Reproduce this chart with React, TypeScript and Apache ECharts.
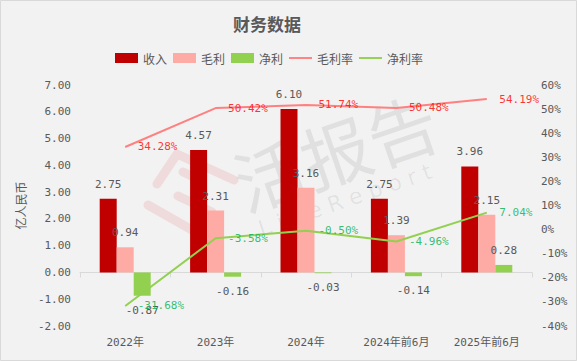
import React, { useEffect, useRef } from "react";
import * as echarts from "echarts";

const categories = ["2022年", "2023年", "2024年", "2024年前6月", "2025年前6月"];
const revenue = [2.75, 4.57, 6.1, 2.75, 3.96];
const grossProfit = [0.94, 2.31, 3.16, 1.39, 2.15];
const netProfit = [-0.87, -0.16, -0.03, -0.14, 0.28];
const grossMargin = [34.28, 50.42, 51.74, 50.48, 54.19];
const netMargin = [-31.68, -3.58, -0.5, -4.96, 7.04];

const monoFont = "'DejaVu Sans Mono', 'Noto Sans CJK SC', monospace";
const cjkFont = "'Noto Sans CJK SC', sans-serif";
const gray = "#595959";
const lineIcon = "path://M0,0 L24,0 L24,2 L0,2 Z";
const logoStroke = { stroke: "rgba(225,70,70,0.13)", lineWidth: 9, lineCap: "round", lineJoin: "round", fill: "none" };

export default function App() {
  const ref = useRef<HTMLDivElement>(null);
  useEffect(() => {
    if (!ref.current) return;
    const chart = echarts.init(ref.current, undefined, { renderer: "svg" });
    const barLabel = {
      show: true,
      position: "top",
      distance: 9,
      color: gray,
      fontSize: 11,
      fontFamily: monoFont,
      formatter: (p: any) => Number(p.value).toFixed(2),
    };
    const pctLabel = (color: string) => ({
      show: true,
      position: "right",
      distance: 12,
      color,
      fontSize: 11,
      fontFamily: monoFont,
      formatter: (p: any) => Number(p.value).toFixed(2) + "%",
    });
    chart.setOption({
      animation: false,
      backgroundColor: "#f2f2f2",
      title: {
        text: "财务数据",
        left: 228,
        top: 10,
        textStyle: { fontSize: 17, fontWeight: "bold", color: gray, fontFamily: cjkFont },
      },
      legend: {
        left: 110,
        top: 47,
        itemWidth: 23,
        itemHeight: 10,
        itemGap: 6,
        textStyle: { fontSize: 12, color: gray, fontFamily: cjkFont },
        data: [
          { name: "收入", icon: "rect" },
          { name: "毛利", icon: "rect" },
          { name: "净利", icon: "rect" },
          { name: "毛利率", icon: lineIcon, itemStyle: { color: "#FF8080" } },
          { name: "净利率", icon: lineIcon, itemStyle: { color: "#92D050" } },
        ],
      },
      graphic: [
        {
          type: "rect",
          shape: { x: 0.5, y: 0.5, width: 576, height: 360 },
          style: { fill: "none", stroke: "#d9d9d9", lineWidth: 1 },
          silent: true,
        },
        {
          type: "polyline",
          z: -10,
          silent: true,
          shape: { points: [[157, 184], [177, 154], [234, 180]] },
          style: logoStroke,
        },
        {
          type: "polyline",
          z: -10,
          silent: true,
          shape: { points: [[183, 172], [196, 178]] },
          style: logoStroke,
        },
        {
          type: "polyline",
          z: -10,
          silent: true,
          shape: { points: [[178, 196], [212, 212]] },
          style: logoStroke,
        },
        {
          type: "polyline",
          z: -10,
          silent: true,
          shape: { points: [[148, 205], [192, 230]] },
          style: logoStroke,
        },
        {
          type: "text",
          x: 335,
          y: 150,
          rotation: 0.33,
          z: -10,
          silent: true,
          style: {
            text: "活报告",
            fontSize: 70,
            fontFamily: cjkFont,
            fill: "rgba(0,0,0,0.07)",
            align: "center",
            verticalAlign: "middle",
          },
        },
        {
          type: "text",
          x: 345,
          y: 200,
          rotation: 0.33,
          z: -10,
          silent: true,
          style: {
            text: "L i v e R e p o r t",
            fontSize: 22,
            fontFamily: "'DejaVu Sans', sans-serif",
            fill: "rgba(0,0,0,0.07)",
            align: "center",
            verticalAlign: "middle",
          },
        },
      ],
      grid: { left: 80, right: 45, top: 85, bottom: 35, containLabel: false },
      xAxis: [
        {
          type: "category",
          data: categories,
          position: "bottom",
          axisLine: { show: false, onZero: false },
          axisTick: { show: false },
          axisLabel: { color: gray, fontSize: 11, fontFamily: monoFont, margin: 11 },
        },
        {
          type: "category",
          data: categories,
          position: "bottom",
          axisLine: { show: true, onZero: true, onZeroAxisIndex: 0, lineStyle: { color: "#d9d9d9", width: 1 } },
          axisTick: { show: true, length: 5, lineStyle: { color: "#d9d9d9" } },
          axisLabel: { show: false },
        },
      ],
      yAxis: [
        {
          type: "value",
          min: -2,
          max: 7,
          interval: 1,
          name: "亿人民币",
          nameLocation: "middle",
          nameRotate: 90,
          nameGap: 47,
          nameTextStyle: { color: gray, fontSize: 12, fontFamily: cjkFont },
          axisLine: { show: false },
          axisTick: { show: false },
          splitLine: { show: false },
          axisLabel: {
            color: gray,
            fontSize: 11,
            fontFamily: monoFont,
            margin: 9,
            formatter: (v: number) => v.toFixed(2),
          },
        },
        {
          type: "value",
          min: -40,
          max: 60,
          interval: 10,
          axisLine: { show: false },
          axisTick: { show: false },
          splitLine: { show: false },
          axisLabel: {
            color: gray,
            fontSize: 11,
            fontFamily: monoFont,
            margin: 9,
            formatter: (v: number) => v + "%",
          },
        },
      ],
      series: [
        {
          name: "收入",
          type: "bar",
          xAxisIndex: 0,
          yAxisIndex: 0,
          barWidth: 17,
          barGap: "0%",
          itemStyle: { color: "#C00000" },
          label: barLabel,
          data: revenue,
        },
        {
          name: "毛利",
          type: "bar",
          xAxisIndex: 0,
          yAxisIndex: 0,
          barWidth: 17,
          barGap: "0%",
          itemStyle: { color: "#FFABA5" },
          label: barLabel,
          data: grossProfit,
        },
        {
          name: "净利",
          type: "bar",
          xAxisIndex: 0,
          yAxisIndex: 0,
          barWidth: 17,
          barGap: "0%",
          itemStyle: { color: "#92D050" },
          label: barLabel,
          data: netProfit.map((v) => ({
            value: v,
            label: { position: v < 0 ? "bottom" : "top" },
          })),
        },
        {
          name: "毛利率",
          type: "line",
          xAxisIndex: 0,
          yAxisIndex: 1,
          symbol: "none",
          lineStyle: { color: "#FF8080", width: 2 },
          itemStyle: { color: "#FF8080" },
          data: grossMargin,
        },
        {
          name: "净利率",
          type: "line",
          xAxisIndex: 0,
          yAxisIndex: 1,
          symbol: "none",
          lineStyle: { color: "#92D050", width: 2 },
          itemStyle: { color: "#92D050" },
          data: netMargin,
        },
        {
          name: "毛利率标签",
          type: "scatter",
          xAxisIndex: 0,
          yAxisIndex: 1,
          symbolSize: 1,
          itemStyle: { color: "rgba(0,0,0,0)" },
          label: pctLabel("#FF0000"),
          z: 5,
          data: grossMargin,
        },
        {
          name: "净利率标签",
          type: "scatter",
          xAxisIndex: 0,
          yAxisIndex: 1,
          symbolSize: 1,
          itemStyle: { color: "rgba(0,0,0,0)" },
          label: pctLabel("#00B050"),
          z: 5,
          data: netMargin,
        },
      ],
    });
    return () => chart.dispose();
  }, []);
  return (
    <div
      ref={ref}
      style={{ position: "fixed", left: 0, top: 0, width: 577, height: 361 }}
    />
  );
}
